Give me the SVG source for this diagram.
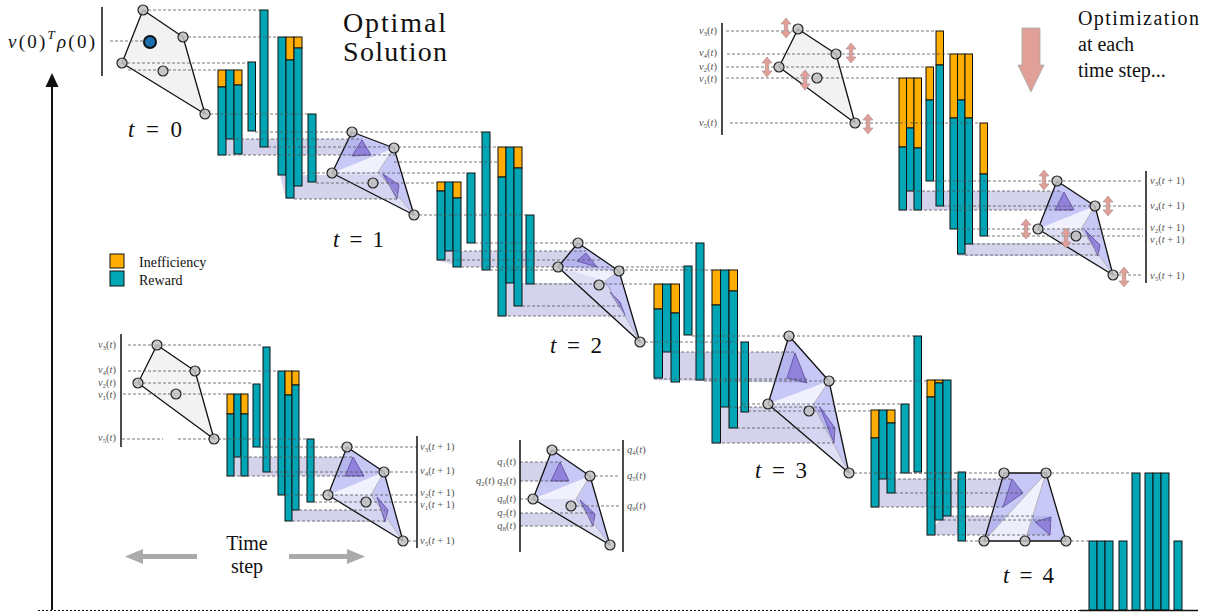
<svg xmlns="http://www.w3.org/2000/svg" width="1225" height="614" viewBox="0 0 1225 614">
<style>
.t{fill:#00a6b6;stroke:#111;stroke-width:1}
.o{fill:#ffad00;stroke:#111;stroke-width:1}
.band{fill:#c4c4e4;fill-opacity:0.75}
.poly{fill:#a4a4f2;fill-opacity:0.6;stroke:none}
.edge{fill:none;stroke:#111;stroke-width:1.3;stroke-linejoin:round}
.gpoly{fill:#f2f2f2;stroke:#111;stroke-width:1.3;stroke-linejoin:round}
.wt{fill:#fff;fill-opacity:0.75}
.lt{fill:#f4f4f4;fill-opacity:0.5}
.gl{fill:none;stroke:#aaa;stroke-width:0.8}
.pt{fill:#8a78d6;fill-opacity:0.85;stroke:#5a4a9a;stroke-width:0.8}
.vx{fill:#c0c0c0;fill-opacity:0.85;stroke:#222;stroke-width:1.2}
.dash{fill:none;stroke:#555;stroke-width:0.8;stroke-dasharray:3 2}
.ser{font-family:"Liberation Serif",serif;fill:#111}
.sl{font-family:"Liberation Serif",serif;font-size:10.5px;fill:#555}
.i{font-style:italic}
.sub{font-size:7px}
.vl{stroke:#111;stroke-width:1.5}
.pk{fill:#e0a098;stroke:#a88;stroke-width:0.6}
</style>
<defs>
<polygon id="dbl" points="0,-10 5,-4 1.7,-4 1.7,4 5,4 0,10 -5,4 -1.7,4 -1.7,-4 -5,-4"/>
</defs>

<!-- bands -->
<g id="bands">
<polygon class="band" points="226,139 362,139 371,155 218,155"/>
<polygon class="band" points="280,175 385,175 397,199 286,199"/>
<polygon class="band" points="445,251 585,251 597,267 461,267 437,260"/>
<polygon class="band" points="506,283 608,283 625,316 498,316"/>
<polygon class="band" points="662,352 795,352 807,383 654,380"/>
<polygon class="band" points="720,407 820,407 834,443 712,443"/>
<polygon class="band" points="879,479 1012,479 1003,507 871,507"/>
<polygon class="band" points="943,516 1051,516 1050,535 927,535"/>
<polygon class="band" points="907,191 1062,191 1074,210 899,210"/>
<polygon class="band" points="965,243 1092,243 1098,256 957,256"/>
<polygon class="band" points="234,457 353,457 364,476 227,476"/>
<polygon class="band" points="292,510 385,510 385,522 285,521"/>
<polygon class="band" points="520,462 560,462 569,481 520,481"/>
<polygon class="band" points="520,513 595,513 593,526 520,526"/>
</g>

<!-- bars -->
<g id="bars-0">
<rect class="o" x="218" y="70" width="8" height="17"/><rect class="t" x="218" y="87" width="8" height="68"/>
<rect class="t" x="226" y="70" width="8" height="69"/>
<rect class="o" x="234" y="70" width="8" height="15"/><rect class="t" x="234" y="85" width="8" height="69"/>
<rect class="t" x="248" y="62" width="7.5" height="69"/>
<rect class="t" x="260" y="10" width="8" height="137"/>
<rect class="t" x="278" y="37" width="8" height="138"/>
<rect class="o" x="286" y="37" width="8" height="23"/><rect class="t" x="286" y="60" width="8" height="138"/>
<rect class="o" x="294" y="37" width="8" height="11"/><rect class="t" x="294" y="48" width="8" height="138"/>
<rect class="t" x="308" y="114" width="8" height="68"/>
</g>
<g id="bars-1">
<rect class="o" x="437" y="182" width="8" height="9"/><rect class="t" x="437" y="191" width="8" height="69"/>
<rect class="t" x="445" y="182" width="8" height="69"/>
<rect class="o" x="453" y="182" width="8" height="16"/><rect class="t" x="453" y="198" width="8" height="69"/>
<rect class="t" x="467" y="173" width="8" height="70"/>
<rect class="t" x="482" y="132" width="8" height="138"/>
<rect class="o" x="498" y="147" width="8" height="30"/><rect class="t" x="498" y="177" width="8" height="139"/>
<rect class="t" x="506" y="147" width="8" height="136"/>
<rect class="o" x="514" y="147" width="8" height="21"/><rect class="t" x="514" y="168" width="8" height="138"/>
<rect class="t" x="526" y="215" width="8" height="69"/>
</g>
<g id="bars-2">
<rect class="o" x="654" y="284" width="8.5" height="25"/><rect class="t" x="654" y="309" width="8.5" height="69"/>
<rect class="t" x="662.5" y="284" width="8.5" height="68"/>
<rect class="o" x="671" y="284" width="8.5" height="29"/><rect class="t" x="671" y="313" width="8.5" height="69"/>
<rect class="t" x="684" y="266" width="8" height="69"/>
<rect class="t" x="696" y="243" width="8" height="137"/>
<rect class="o" x="712" y="270" width="8.5" height="35"/><rect class="t" x="712" y="305" width="8.5" height="138"/>
<rect class="t" x="720.5" y="270" width="8.5" height="137"/>
<rect class="o" x="729" y="270" width="8.5" height="21"/><rect class="t" x="729" y="291" width="8.5" height="137"/>
<rect class="t" x="741" y="342" width="7.5" height="70"/>
</g>
<g id="bars-3">
<rect class="o" x="871" y="410" width="8" height="28"/><rect class="t" x="871" y="438" width="8" height="69"/>
<rect class="t" x="879" y="410" width="8" height="69"/>
<rect class="o" x="887" y="410" width="8" height="13"/><rect class="t" x="887" y="423" width="8" height="70"/>
<rect class="t" x="901" y="404" width="8" height="69"/>
<rect class="t" x="914" y="336" width="7.5" height="136"/>
<rect class="o" x="927" y="380" width="8" height="17"/><rect class="t" x="927" y="397" width="8" height="138"/>
<rect class="o" x="935" y="380" width="8" height="3"/><rect class="t" x="935" y="383" width="8" height="137"/>
<rect class="t" x="943" y="380" width="8" height="136"/>
<rect class="t" x="958" y="472" width="7.5" height="69"/>
</g>
<g id="bars-final">
<rect class="t" x="1089" y="541" width="8" height="69"/>
<rect class="t" x="1097" y="541" width="8" height="69"/>
<rect class="t" x="1105" y="541" width="8" height="69"/>
<rect class="t" x="1119" y="541" width="8" height="69"/>
<rect class="t" x="1132" y="473" width="8" height="137"/>
<rect class="t" x="1145" y="473" width="8" height="137"/>
<rect class="t" x="1153" y="473" width="8" height="137"/>
<rect class="t" x="1161" y="473" width="8" height="137"/>
<rect class="t" x="1174" y="541" width="8" height="69"/>
</g>
<g id="bars-inset-top">
<rect class="o" x="899" y="78" width="7.5" height="69"/><rect class="t" x="899" y="147" width="7.5" height="63"/>
<rect class="o" x="906.5" y="78" width="7.5" height="50"/><rect class="t" x="906.5" y="128" width="7.5" height="63"/>
<rect class="o" x="914" y="78" width="7.5" height="70"/><rect class="t" x="914" y="148" width="7.5" height="62"/>
<rect class="o" x="926" y="67" width="7.5" height="33"/><rect class="t" x="926" y="100" width="7.5" height="81"/>
<rect class="o" x="936" y="31" width="7.5" height="34"/><rect class="t" x="936" y="65" width="7.5" height="141"/>
<rect class="o" x="950" y="54" width="7.5" height="64"/><rect class="t" x="950" y="118" width="7.5" height="111"/>
<rect class="o" x="957.5" y="54" width="7.5" height="46"/><rect class="t" x="957.5" y="100" width="7.5" height="154"/>
<rect class="o" x="965" y="54" width="7.5" height="64"/><rect class="t" x="965" y="118" width="7.5" height="126"/>
<rect class="o" x="980" y="123" width="7.5" height="51"/><rect class="t" x="980" y="174" width="7.5" height="62"/>
</g>
<g id="bars-inset-bottom">
<rect class="o" x="227" y="394" width="7" height="20"/><rect class="t" x="227" y="414" width="7" height="62"/>
<rect class="t" x="234" y="394" width="7" height="63"/>
<rect class="o" x="241" y="394" width="7" height="20"/><rect class="t" x="241" y="414" width="7" height="62"/>
<rect class="t" x="253" y="384" width="7" height="63"/>
<rect class="t" x="263" y="347" width="7" height="125"/>
<rect class="t" x="278" y="371" width="7" height="124"/>
<rect class="o" x="285" y="371" width="7" height="24"/><rect class="t" x="285" y="395" width="7" height="126"/>
<rect class="o" x="292" y="371" width="7" height="14"/><rect class="t" x="292" y="385" width="7" height="125"/>
<rect class="t" x="307" y="439" width="7" height="63"/>
</g>

<!-- polytopes -->
<g id="poly-t0">
<polygon class="gpoly" points="143,10 183,37 205,114 122,63"/>
</g>
<g id="poly-t1">
<polygon class="poly" points="352,132 394,148 414,215 332,173"/>
<polygon class="wt" points="332,173 394,148 378,172"/>
<polygon class="lt" points="332,173 378,172 414,215"/>
<polygon class="pt" points="362,140 371,155 352,156"/>
<polygon class="pt" points="383,174 399,185 397,199"/>
<polyline class="gl" points="394,148 378,172 414,215"/>
<polygon class="edge" points="352,132 394,148 414,215 332,173"/>
</g>
<g id="poly-t2">
<polygon class="poly" points="578,243 619,271 640,342 558,267"/>
<polygon class="wt" points="558,267 619,271 605,281"/>
<polygon class="lt" points="558,267 605,281 640,342"/>
<polygon class="pt" points="586,253 597,267 577,261"/>
<polygon class="pt" points="610,292 625,315 620,302"/>
<polyline class="gl" points="619,271 605,281 640,342"/>
<polygon class="edge" points="578,243 619,271 640,342 558,267"/>
</g>
<g id="poly-t3">
<polygon class="poly" points="789,336 829,381 849,473 768,404"/>
<polygon class="wt" points="768,404 829,381 813,405"/>
<polygon class="lt" points="768,404 813,405 849,473"/>
<polygon class="pt" points="795,353 807,383 787,378"/>
<polygon class="pt" points="820,407 835,428 834,443"/>
<polyline class="gl" points="829,381 813,405 849,473"/>
<polygon class="edge" points="789,336 829,381 849,473 768,404"/>
</g>
<g id="poly-t4">
<polygon class="poly" points="1004,473 1046,473 1066,541 984,541"/>
<polygon class="wt" points="984,541 1046,473 1025,541"/>
<polygon class="pt" points="1012,479 1023,493 1003,507"/>
<polygon class="pt" points="1035,522 1051,517 1050,535"/>
<polyline class="gl" points="984,541 1046,473 1025,541"/>
<polygon class="edge" points="1004,473 1046,473 1066,541 984,541"/>
</g>
<g id="poly-inset-top-t">
<polygon class="gpoly" points="798,29 836,54 855,123 779,67"/>
</g>
<g id="poly-inset-top-t1">
<polygon class="poly" points="1057,181 1095,206 1113,275 1038,229"/>
<polygon class="wt" points="1038,229 1095,206 1081,229"/>
<polygon class="lt" points="1038,229 1081,229 1113,275"/>
<polygon class="pt" points="1064,192 1074,210 1055,210"/>
<polygon class="pt" points="1085,230 1100,245 1098,256"/>
<polyline class="gl" points="1095,206 1081,229 1113,275"/>
<polygon class="edge" points="1057,181 1095,206 1113,275 1038,229"/>
</g>
<g id="poly-inset-bottom-t">
<polygon class="gpoly" points="157,345 195,371 214,439 138,383"/>
</g>
<g id="poly-inset-bottom-t1">
<polygon class="poly" points="347,447 384,472 403,541 328,495"/>
<polygon class="wt" points="328,495 384,472 371,495"/>
<polygon class="lt" points="328,495 371,495 403,541"/>
<polygon class="pt" points="353,457 364,476 345,476"/>
<polygon class="pt" points="377,497 388,510 385,522"/>
<polyline class="gl" points="384,472 371,495 403,541"/>
<polygon class="edge" points="347,447 384,472 403,541 328,495"/>
</g>
<g id="poly-q">
<polygon class="poly" points="552,450 590,476 610,545 533,499"/>
<polygon class="wt" points="533,499 590,476 576,499"/>
<polygon class="lt" points="533,499 576,499 610,545"/>
<polygon class="pt" points="560,462 569,481 551,481"/>
<polygon class="pt" points="580,500 595,514 593,526"/>
<polyline class="gl" points="590,476 576,499 610,545"/>
<polygon class="edge" points="552,450 590,476 610,545 533,499"/>
</g>

<!-- connectors -->
<g id="connectors">
<path class="dash" d="M143 10H260 M183 37H278 M122 63H248 M128 70H218 M205 114H308 M110 41H144
M255 132H482 M226 139H362 M268 147H498 M218 155H395 M394 162H498 M302 173H467 M316 183H437 M294 199H397 M414 215H526
M475 243H696 M454 251H586 M437 260H600 M461 267H684 M490 270H712 M534 284H654 M522 306H620 M498 316H625 M640 342H741
M692 336H914 M671 352H795 M654 379H807 M704 381H927 M742 404H901 M729 407H820 M748 411H871 M737 428H835 M712 443H834 M849 473H958
M909 473H1004 M888 479H1012 M895 493H1023 M871 507H1003 M951 516H1035 M943 520H1050 M927 535H1050 M965 541H984 M1046 473H1132 M1066 541H1089
M726 31H936 M727 54H950 M726 67H926 M726 78H899 M730 123H980
M933 181H1143 M907 191H1062 M943 206H1143 M899 210H1074 M957 229H1143 M987 236H1143 M972 244H1092 M965 255H1098 M1113 275H1143
M128 345H263 M128 371H278 M133 383H253 M123 394H227 M122 439H163 M178 439H307
M260 447H417 M234 457H353 M270 472H417 M227 476H364 M285 495H417 M314 502H417 M299 510H385 M292 521H385 M403 541H417
M552 450H620 M520 462H562 M590 476H620 M520 481H569 M520 499H533 M571 506H620 M520 513H595 M520 526H593"/>
</g>

<!-- vertices -->
<g id="vertices">
<circle class="vx" cx="143" cy="10" r="5"/><circle class="vx" cx="183" cy="37" r="5"/><circle class="vx" cx="122" cy="63" r="5"/><circle class="vx" cx="163" cy="71" r="5"/><circle class="vx" cx="205" cy="114" r="5"/>
<circle cx="150" cy="42" r="6" fill="#1a6fb0" stroke="#111" stroke-width="2"/>
<circle class="vx" cx="352" cy="132" r="5"/><circle class="vx" cx="394" cy="148" r="5"/><circle class="vx" cx="332" cy="173" r="5"/><circle class="vx" cx="373" cy="183" r="5"/><circle class="vx" cx="414" cy="215" r="5"/>
<circle class="vx" cx="578" cy="243" r="5"/><circle class="vx" cx="619" cy="271" r="5"/><circle class="vx" cx="558" cy="267" r="5"/><circle class="vx" cx="599" cy="285" r="5"/><circle class="vx" cx="640" cy="342" r="5"/>
<circle class="vx" cx="789" cy="336" r="5"/><circle class="vx" cx="829" cy="381" r="5"/><circle class="vx" cx="768" cy="404" r="5"/><circle class="vx" cx="809" cy="411" r="5"/><circle class="vx" cx="849" cy="473" r="5"/>
<circle class="vx" cx="1004" cy="473" r="5"/><circle class="vx" cx="1046" cy="473" r="5"/><circle class="vx" cx="984" cy="541" r="5"/><circle class="vx" cx="1025" cy="541" r="5"/><circle class="vx" cx="1066" cy="541" r="5"/>
<circle class="vx" cx="798" cy="29" r="5"/><circle class="vx" cx="836" cy="54" r="5"/><circle class="vx" cx="779" cy="67" r="5"/><circle class="vx" cx="817" cy="78" r="5"/><circle class="vx" cx="855" cy="123" r="5"/>
<circle class="vx" cx="1057" cy="181" r="5"/><circle class="vx" cx="1095" cy="206" r="5"/><circle class="vx" cx="1038" cy="229" r="5"/><circle class="vx" cx="1076" cy="236" r="5"/><circle class="vx" cx="1113" cy="275" r="5"/>
<circle class="vx" cx="157" cy="345" r="5"/><circle class="vx" cx="195" cy="371" r="5"/><circle class="vx" cx="138" cy="383" r="5"/><circle class="vx" cx="176" cy="394" r="5"/><circle class="vx" cx="214" cy="439" r="5"/>
<circle class="vx" cx="347" cy="447" r="5"/><circle class="vx" cx="384" cy="472" r="5"/><circle class="vx" cx="328" cy="495" r="5"/><circle class="vx" cx="366" cy="502" r="5"/><circle class="vx" cx="403" cy="541" r="5"/>
<circle class="vx" cx="552" cy="450" r="5"/><circle class="vx" cx="590" cy="476" r="5"/><circle class="vx" cx="533" cy="499" r="5"/><circle class="vx" cx="571" cy="506" r="5"/><circle class="vx" cx="610" cy="545" r="5"/>
</g>

<!-- pink double arrows -->
<g id="adjust-arrows" class="pk">
<use href="#dbl" x="786" y="28"/><use href="#dbl" x="851" y="53"/><use href="#dbl" x="767" y="67"/><use href="#dbl" x="805" y="80"/><use href="#dbl" x="868" y="124"/>
<use href="#dbl" x="1044" y="180"/><use href="#dbl" x="1108" y="206"/><use href="#dbl" x="1026" y="229"/><use href="#dbl" x="1066" y="238"/><use href="#dbl" x="1124" y="277"/>
</g>

<!-- axes -->
<g id="axes">
<line x1="52" y1="610" x2="52" y2="85" stroke="#111" stroke-width="2"/>
<polygon points="52,73 45.5,87 58.5,87" fill="#111"/>
<line x1="38" y1="610.5" x2="1085" y2="610.5" stroke="#111" stroke-width="1" stroke-dasharray="2 2"/>
<line x1="1080" y1="610.5" x2="1198" y2="610.5" stroke="#111" stroke-width="1.3"/>
</g>

<!-- vertical lines of insets -->
<g id="scale-lines">
<line class="vl" x1="102" y1="7" x2="102" y2="76"/>
<line class="vl" x1="722" y1="23" x2="722" y2="135"/>
<line class="vl" x1="1146" y1="171" x2="1146" y2="283" stroke="#444"/>
<line class="vl" x1="121" y1="334" x2="121" y2="447"/>
<line class="vl" x1="417" y1="436" x2="417" y2="548"/>
<line class="vl" x1="520" y1="440" x2="520" y2="552"/>
<line class="vl" x1="623" y1="440" x2="623" y2="552"/>
</g>

<!-- big arrows -->
<g id="opt-arrow">
<polygon points="1022,28 1040,28 1040,65 1044,65 1031,92 1018,65 1022,65" fill="#e0a098" stroke="#aaa" stroke-width="0.8"/>
</g>
<g id="time-arrows" fill="#aaa">
<polygon points="197,554 143,554 143,549 125,556.5 143,564 143,559 197,559"/>
<polygon points="289,554 347,554 347,549 365,556.5 347,564 347,559 289,559"/>
</g>

<!-- legend -->
<g id="legend">
<rect x="110" y="254" width="14" height="14" fill="#ffad00" stroke="#111"/>
<rect x="110" y="271" width="14" height="15" fill="#00a6b6" stroke="#111"/>
<text class="ser" x="139" y="267" font-size="14">Inefficiency</text>
<text class="ser" x="139" y="285" font-size="14">Reward</text>
</g>

<!-- titles and labels -->
<g id="labels">
<text class="ser" x="8" y="48" font-size="19" textLength="87"><tspan class="i">v</tspan>(0)<tspan class="i" font-size="13" dy="-9">T</tspan><tspan class="i" dy="9">ρ</tspan>(0)</text>
<text class="ser" x="343" y="32" font-size="28" textLength="103">Optimal</text>
<text class="ser" x="343" y="61" font-size="28" textLength="104">Solution</text>
<text class="ser" x="1078" y="25" font-size="20" textLength="121">Optimization</text>
<text class="ser" x="1078" y="51" font-size="20">at each</text>
<text class="ser" x="1078" y="77" font-size="20">time step...</text>
<text class="ser" x="247" y="550" font-size="20" text-anchor="middle">Time</text>
<text class="ser" x="247" y="573" font-size="20" text-anchor="middle">step</text>
<text class="ser" x="128" y="137" font-size="23" textLength="54"><tspan class="i">t</tspan> = 0</text>
<text class="ser" x="333" y="247" font-size="23" textLength="51"><tspan class="i">t</tspan> = 1</text>
<text class="ser" x="550" y="353" font-size="23" textLength="52"><tspan class="i">t</tspan> = 2</text>
<text class="ser" x="755" y="478" font-size="23" textLength="52"><tspan class="i">t</tspan> = 3</text>
<text class="ser" x="1003" y="583" font-size="23" textLength="51"><tspan class="i">t</tspan> = 4</text>
</g>
<g id="inset-labels">
<text class="sl" x="717" y="34" text-anchor="end"><tspan class="i">v</tspan><tspan class="sub" dy="2">3</tspan><tspan dy="-2">(</tspan><tspan class="i">t</tspan>)</text>
<text class="sl" x="717" y="56" text-anchor="end"><tspan class="i">v</tspan><tspan class="sub" dy="2">4</tspan><tspan dy="-2">(</tspan><tspan class="i">t</tspan>)</text>
<text class="sl" x="717" y="70" text-anchor="end"><tspan class="i">v</tspan><tspan class="sub" dy="2">2</tspan><tspan dy="-2">(</tspan><tspan class="i">t</tspan>)</text>
<text class="sl" x="717" y="82" text-anchor="end"><tspan class="i">v</tspan><tspan class="sub" dy="2">1</tspan><tspan dy="-2">(</tspan><tspan class="i">t</tspan>)</text>
<text class="sl" x="717" y="126" text-anchor="end"><tspan class="i">v</tspan><tspan class="sub" dy="2">5</tspan><tspan dy="-2">(</tspan><tspan class="i">t</tspan>)</text>
<text class="sl" x="1150" y="184"><tspan class="i">v</tspan><tspan class="sub" dy="2">3</tspan><tspan dy="-2">(</tspan><tspan class="i">t</tspan> + 1)</text>
<text class="sl" x="1150" y="209"><tspan class="i">v</tspan><tspan class="sub" dy="2">4</tspan><tspan dy="-2">(</tspan><tspan class="i">t</tspan> + 1)</text>
<text class="sl" x="1150" y="231"><tspan class="i">v</tspan><tspan class="sub" dy="2">2</tspan><tspan dy="-2">(</tspan><tspan class="i">t</tspan> + 1)</text>
<text class="sl" x="1150" y="243"><tspan class="i">v</tspan><tspan class="sub" dy="2">1</tspan><tspan dy="-2">(</tspan><tspan class="i">t</tspan> + 1)</text>
<text class="sl" x="1150" y="279"><tspan class="i">v</tspan><tspan class="sub" dy="2">5</tspan><tspan dy="-2">(</tspan><tspan class="i">t</tspan> + 1)</text>
<text class="sl" x="116" y="348" text-anchor="end"><tspan class="i">v</tspan><tspan class="sub" dy="2">3</tspan><tspan dy="-2">(</tspan><tspan class="i">t</tspan>)</text>
<text class="sl" x="116" y="373" text-anchor="end"><tspan class="i">v</tspan><tspan class="sub" dy="2">4</tspan><tspan dy="-2">(</tspan><tspan class="i">t</tspan>)</text>
<text class="sl" x="116" y="386" text-anchor="end"><tspan class="i">v</tspan><tspan class="sub" dy="2">2</tspan><tspan dy="-2">(</tspan><tspan class="i">t</tspan>)</text>
<text class="sl" x="116" y="398" text-anchor="end"><tspan class="i">v</tspan><tspan class="sub" dy="2">1</tspan><tspan dy="-2">(</tspan><tspan class="i">t</tspan>)</text>
<text class="sl" x="116" y="441" text-anchor="end"><tspan class="i">v</tspan><tspan class="sub" dy="2">5</tspan><tspan dy="-2">(</tspan><tspan class="i">t</tspan>)</text>
<text class="sl" x="420" y="450"><tspan class="i">v</tspan><tspan class="sub" dy="2">3</tspan><tspan dy="-2">(</tspan><tspan class="i">t</tspan> + 1)</text>
<text class="sl" x="420" y="474"><tspan class="i">v</tspan><tspan class="sub" dy="2">4</tspan><tspan dy="-2">(</tspan><tspan class="i">t</tspan> + 1)</text>
<text class="sl" x="420" y="496"><tspan class="i">v</tspan><tspan class="sub" dy="2">2</tspan><tspan dy="-2">(</tspan><tspan class="i">t</tspan> + 1)</text>
<text class="sl" x="420" y="508"><tspan class="i">v</tspan><tspan class="sub" dy="2">1</tspan><tspan dy="-2">(</tspan><tspan class="i">t</tspan> + 1)</text>
<text class="sl" x="420" y="544"><tspan class="i">v</tspan><tspan class="sub" dy="2">5</tspan><tspan dy="-2">(</tspan><tspan class="i">t</tspan> + 1)</text>
<text class="sl" x="516" y="465" text-anchor="end"><tspan class="i">q</tspan><tspan class="sub" dy="2">1</tspan><tspan dy="-2">(</tspan><tspan class="i">t</tspan>)</text>
<text class="sl" x="516" y="484" text-anchor="end"><tspan class="i">q</tspan><tspan class="sub" dy="2">2</tspan><tspan dy="-2">(</tspan><tspan class="i">t</tspan>) <tspan class="i">q</tspan><tspan class="sub" dy="2">3</tspan><tspan dy="-2">(</tspan><tspan class="i">t</tspan>)</text>
<text class="sl" x="516" y="502" text-anchor="end"><tspan class="i">q</tspan><tspan class="sub" dy="2">6</tspan><tspan dy="-2">(</tspan><tspan class="i">t</tspan>)</text>
<text class="sl" x="516" y="516" text-anchor="end"><tspan class="i">q</tspan><tspan class="sub" dy="2">7</tspan><tspan dy="-2">(</tspan><tspan class="i">t</tspan>)</text>
<text class="sl" x="516" y="529" text-anchor="end"><tspan class="i">q</tspan><tspan class="sub" dy="2">8</tspan><tspan dy="-2">(</tspan><tspan class="i">t</tspan>)</text>
<text class="sl" x="627" y="453"><tspan class="i">q</tspan><tspan class="sub" dy="2">4</tspan><tspan dy="-2">(</tspan><tspan class="i">t</tspan>)</text>
<text class="sl" x="627" y="479"><tspan class="i">q</tspan><tspan class="sub" dy="2">5</tspan><tspan dy="-2">(</tspan><tspan class="i">t</tspan>)</text>
<text class="sl" x="627" y="509"><tspan class="i">q</tspan><tspan class="sub" dy="2">9</tspan><tspan dy="-2">(</tspan><tspan class="i">t</tspan>)</text>
</g>
</svg>
